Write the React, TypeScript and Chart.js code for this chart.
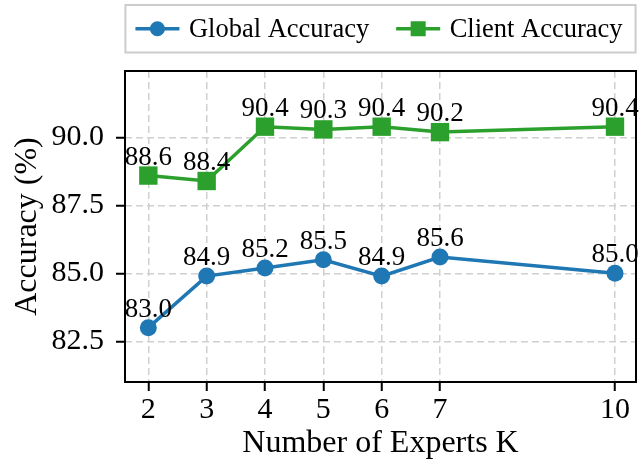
import React, { useEffect, useRef } from 'react';
import { Chart, registerables } from 'chart.js';

Chart.register(...registerables);

const expertsK = [2, 3, 4, 5, 6, 7, 10];
const globalAccuracy = [83.0, 84.9, 85.2, 85.5, 84.9, 85.6, 85.0];
const clientAccuracy = [88.6, 88.4, 90.4, 90.3, 90.4, 90.2, 90.4];
const xTickValues = [2, 3, 4, 5, 6, 7, 10];
const yTickValues = [82.5, 85.0, 87.5, 90.0];
const seriesNames = ['Global Accuracy', 'Client Accuracy'];
const seriesColors = ['#1f77b4', '#2ca02c'];
const xTitle = 'Number of Experts K';
const yTitle = 'Accuracy (%)';

const SERIF = '"Liberation Serif", "Times New Roman", serif';

const decorPlugin = {
  id: 'decor',
  afterDatasetsDraw(chart: any) {
    const ctx = chart.ctx as CanvasRenderingContext2D;
    const area = chart.chartArea;
    ctx.save();
    // value labels
    ctx.fillStyle = '#000';
    ctx.font = `27px ${SERIF}`;
    ctx.textAlign = 'center';
    ctx.textBaseline = 'alphabetic';
    chart.data.datasets.forEach((ds: any, i: number) => {
      const meta = chart.getDatasetMeta(i);
      meta.data.forEach((pt: any, j: number) => {
        const v = ds.data[j].y;
        ctx.fillText(Number(v).toFixed(1), pt.x, pt.y - 11);
      });
    });
    // frame
    ctx.strokeStyle = '#000';
    ctx.lineWidth = 2;
    ctx.strokeRect(area.left, area.top, area.right - area.left, area.bottom - area.top);

    // legend
    ctx.font = `26.5px ${SERIF}`;
    const widths = seriesNames.map((n) => ctx.measureText(n).width);
    const padL = 10, lineLen = 44, gapText = 9.5, between = 27, padR = 13;
    const total = padL + lineLen + gapText + widths[0] + between + lineLen + gapText + widths[1] + padR;
    const cx = (area.left + area.right) / 2;
    const bx = cx - total / 2;
    const by = 5;
    const bh = 47.5;
    ctx.fillStyle = '#fff';
    ctx.fillRect(bx, by, total, bh);
    ctx.strokeStyle = '#cccccc';
    ctx.lineWidth = 2;
    ctx.strokeRect(bx, by, total, bh);
    const my = by + bh / 2;
    let x = bx + padL;
    seriesNames.forEach((name, i) => {
      ctx.strokeStyle = seriesColors[i];
      ctx.lineWidth = 3.5;
      ctx.beginPath();
      ctx.moveTo(x, my);
      ctx.lineTo(x + lineLen, my);
      ctx.stroke();
      ctx.fillStyle = seriesColors[i];
      const mx = x + lineLen / 2;
      if (i === 0) {
        ctx.beginPath();
        ctx.arc(mx, my, 7.5, 0, Math.PI * 2);
        ctx.fill();
      } else {
        ctx.fillRect(mx - 7.5, my - 7.5, 15, 15);
      }
      ctx.fillStyle = '#000';
      ctx.textAlign = 'left';
      ctx.textBaseline = 'alphabetic';
      ctx.fillText(name, x + lineLen + gapText, my + 8);
      x += lineLen + gapText + widths[i] + between;
    });
    ctx.restore();
  },
};

export default function App() {
  const canvasRef = useRef<HTMLCanvasElement | null>(null);

  useEffect(() => {
    document.body.style.margin = '0';
    const canvas = canvasRef.current;
    if (!canvas) return;
    const gridCommon = {
      color: '#d0d0d0',
      lineWidth: 1.5,
      tickLength: 9,
      tickColor: '#000',
      tickWidth: 2,
      tickBorderDash: [],
    };
    const chart = new Chart(canvas, {
      type: 'line',
      data: {
        datasets: [
          {
            label: seriesNames[0],
            data: expertsK.map((k, i) => ({ x: k, y: globalAccuracy[i] })),
            borderColor: seriesColors[0],
            backgroundColor: seriesColors[0],
            borderWidth: 3.5,
            pointStyle: 'circle',
            pointRadius: 8.5,
            pointBorderWidth: 0,
            pointBackgroundColor: seriesColors[0],
            tension: 0,
            fill: false,
          },
          {
            label: seriesNames[1],
            data: expertsK.map((k, i) => ({ x: k, y: clientAccuracy[i] })),
            borderColor: seriesColors[1],
            backgroundColor: seriesColors[1],
            borderWidth: 3.5,
            pointStyle: 'rect',
            pointRadius: 13,
            pointBorderWidth: 0,
            pointBackgroundColor: seriesColors[1],
            tension: 0,
            fill: false,
          },
        ],
      },
      options: {
        responsive: false,
        animation: false,
        layout: { autoPadding: false, padding: { top: 71, right: 3, left: 0, bottom: 0 } },
        plugins: { legend: { display: false }, tooltip: { enabled: false } },
        scales: {
          x: {
            type: 'linear',
            min: 1.6,
            max: 10.36,
            afterBuildTicks: (s: any) => {
              s.ticks = xTickValues.map((v) => ({ value: v }));
            },
            afterFit: (s: any) => {
              s.height = 86;
              s.paddingLeft = 0;
              s.paddingRight = 0;
            },
            ticks: {
              font: { family: SERIF, size: 30 },
              color: '#000',
              padding: 1,
              maxRotation: 0,
              autoSkip: false,
              callback: (v: any) => String(v),
            },
            grid: gridCommon,
            border: { display: false, dash: [7, 4] },
            title: {
              display: true,
              text: xTitle,
              color: '#000',
              font: { family: SERIF, size: 32 },
              padding: { top: 0, bottom: 5 },
            },
          },
          y: {
            type: 'linear',
            min: 81.0,
            max: 92.45,
            afterBuildTicks: (s: any) => {
              s.ticks = yTickValues.map((v) => ({ value: v }));
            },
            afterFit: (s: any) => {
              s.width = 125;
              s.paddingTop = 0;
              s.paddingBottom = 0;
            },
            ticks: {
              font: { family: SERIF, size: 30 },
              color: '#000',
              padding: 12,
              autoSkip: false,
              callback: (v: any) => Number(v).toFixed(1),
            },
            grid: gridCommon,
            border: { display: false, dash: [7, 4] },
            title: {
              display: true,
              text: yTitle,
              color: '#000',
              font: { family: SERIF, size: 32 },
              padding: { top: 8, bottom: 0 },
            },
          },
        },
      },
      plugins: [decorPlugin],
    } as any);
    return () => chart.destroy();
  }, []);

  return (
    <div style={{ width: 639, height: 468 }}>
      <canvas ref={canvasRef} width={639} height={468} style={{ display: 'block' }} />
    </div>
  );
}
